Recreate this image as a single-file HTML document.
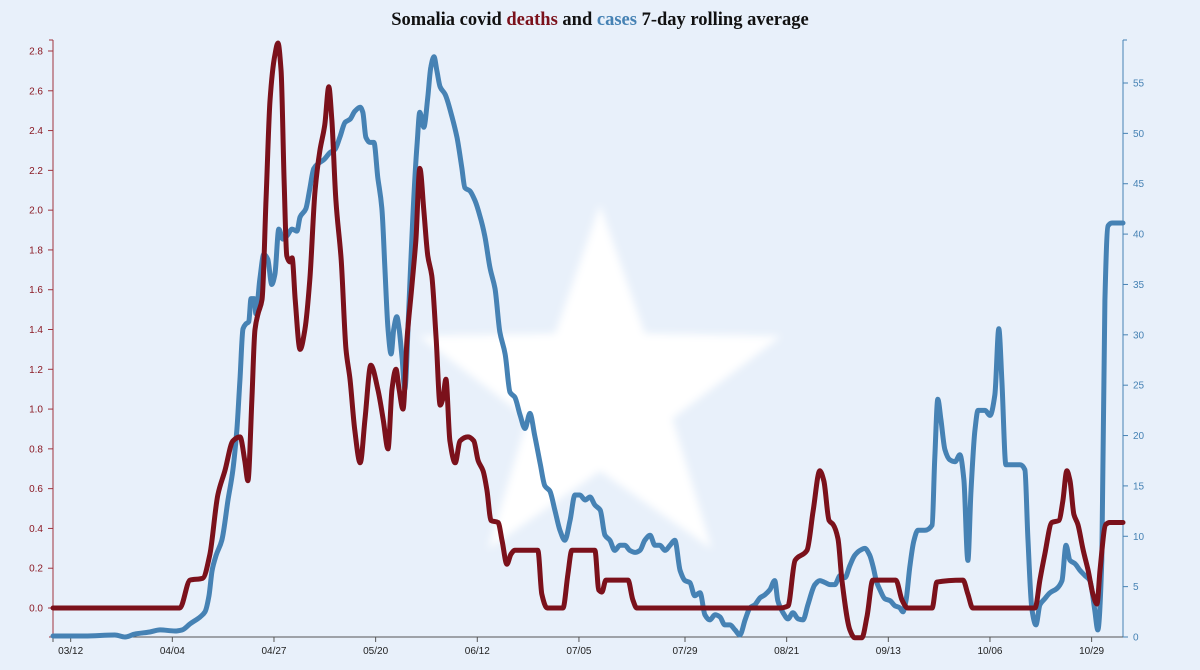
<!DOCTYPE html>
<html><head><meta charset="utf-8">
<style>
html,body{margin:0;padding:0;background:#e8f0fa;}
svg{display:block;font-family:"Liberation Sans",sans-serif;}
</style></head>
<body>
<svg id="chart" width="1200" height="670">
<defs><filter id="blur"><feGaussianBlur stdDeviation="4"/></filter></defs>
<rect width="1200" height="670" fill="#e8f0fa"/>
<polygon id="star" fill="#ffffff" filter="url(#blur)"/>
<text x="600" y="25" text-anchor="middle" font-family="Liberation Serif, serif" font-weight="bold" font-size="18.5" fill="#111">Somalia covid <tspan fill="#7b111b">deaths</tspan> and <tspan fill="#4682b4">cases</tspan> 7-day rolling average</text>
<g id="axes"></g>
<g id="series"></g>
</svg>
<script>
const xTickLabels=["03/12","04/04","04/27","05/20","06/12","07/05","07/29","08/21","09/13","10/06","10/29"];
const xTickDays=[4,27,50,73,96,119,143,166,189,212,235];
const leftTicks=[0,0.2,0.4,0.6,0.8,1.0,1.2,1.4,1.6,1.8,2.0,2.2,2.4,2.6,2.8];
const rightTicks=[0,5,10,15,20,25,30,35,40,45,50,55];
const deathDays=[0,28.7,31,33.9,35.5,37.3,38.9,40.7,42.3,43.4,44.1,45,45.7,46.4,47.3,48.2,49.1,50.2,50.9,51.6,52.3,52.9,53.6,54.1,54.8,55.9,57,58.1,59.3,60.4,61.5,62.4,63.1,64,65.2,66.3,67.2,68.3,69.5,70.6,71.9,73.5,74.7,75.8,76.7,77.6,78.3,79.2,80.1,81.2,82.1,83,83.9,84.8,85.7,86.7,87.6,88.2,88.9,89.8,91,92.1,93.9,95.2,96.2,97.3,98.2,99.1,100.7,101.6,102.7,103.6,104.5,109.7,110.6,111.8,115.4,116.5,117.4,122.6,123.5,124.2,125.1,130.1,131.2,132.1,164.5,166.3,167.9,170.6,172,173.5,174.4,175.6,176.5,177.6,178.5,180.3,181.4,183,184.2,185.5,190.7,192.1,193.4,198.9,200,205.9,207,208.1,222.2,223.3,224.4,226,227.6,228.5,229.4,230.1,231,231.9,233,234.2,235.3,236.2,236.9,238.2,239.1,242.1];
const deathVals=[0,0,0.14,0.15,0.27,0.57,0.69,0.84,0.86,0.74,0.64,1.05,1.40,1.48,1.55,2.05,2.55,2.78,2.84,2.70,2.15,1.77,1.74,1.76,1.55,1.30,1.40,1.65,2.10,2.30,2.43,2.62,2.45,2.05,1.75,1.30,1.15,0.89,0.73,0.95,1.22,1.10,0.95,0.80,1.10,1.20,1.10,1.00,1.35,1.62,1.85,2.21,2.00,1.77,1.67,1.35,1.02,1.05,1.15,0.84,0.73,0.84,0.86,0.84,0.74,0.69,0.59,0.44,0.43,0.34,0.22,0.27,0.29,0.29,0.07,0,0,0.17,0.29,0.29,0.09,0.08,0.14,0.14,0.04,0,0,0.01,0.24,0.29,0.49,0.69,0.64,0.44,0.42,0.35,0.14,-0.11,-0.15,-0.15,-0.04,0.14,0.14,0.04,0,0,0.13,0.14,0.07,0,0,0.14,0.27,0.43,0.44,0.54,0.69,0.64,0.47,0.42,0.30,0.19,0.07,0.02,0.19,0.42,0.43,0.43];
const caseDays=[0,7.2,14,16.3,18.6,21.9,24.2,27.6,29.2,31,33.3,34.4,35.3,36,36.9,38.2,39.6,40.7,41.6,42.3,43,43.7,44.3,44.8,45.5,45.9,46.8,47.7,48.6,49.5,50.2,51.1,52,52.9,54.1,55.2,55.9,57.2,58.1,59,60,61.3,62.7,63.8,64.9,66.1,67.2,68.3,69.5,70.1,70.8,71.7,72.6,73.5,74.4,75.1,75.8,76.5,77.1,77.8,78.3,79,79.6,80.5,81.4,82.4,83,83.9,84.8,85.5,86.2,86.9,87.6,88.7,90.3,91.4,92.5,93.2,94.3,95.5,96.6,97.7,98.9,100,101.1,102.3,103.4,104.5,105.7,106.8,107.9,109,110.2,111.3,112.4,113.6,114.7,115.8,117,118.1,119.2,120.4,121.5,122.6,123.8,124.9,126,127.1,128.3,129.4,130.5,131.7,132.8,133.9,135.1,136.2,137.3,138.5,139.6,140.7,141.9,143,144.1,145.2,146.4,147.5,148.6,149.8,150.9,152,153.2,154.3,155.4,156.6,157.7,158.8,160,161.1,162.2,163.3,164,165.2,166.3,167.4,168.6,169.7,170.8,172.4,173.5,174.7,175.8,176.9,178.1,179.2,180.3,181.4,182.6,183.7,184.8,185.5,186.4,187.1,188.2,189.4,190.5,191.6,192.3,193,193.9,194.8,195.7,197.3,198.9,199.5,200.2,200.9,201.8,202.9,204.1,205.2,206.1,207,207.7,208.6,209.3,210.9,212,213.1,214,214.7,215.6,217,218.8,219.9,220.6,221.5,222.4,223.3,224.4,225.6,227.1,228.3,229.2,230.1,231.2,232.4,233.5,234.6,235.7,236.4,237.3,238,238.7,239.6,242.1];
const caseVals=[0.1,0.1,0.2,0,0.3,0.5,0.7,0.6,0.7,1.3,2.0,2.5,4.1,6.6,8.1,9.6,13.6,16.6,20.6,25.6,30.6,31.1,31.3,33.6,33.6,32.1,35.5,38.0,37.5,35.0,36.0,40.5,39.5,39.8,40.5,40.3,41.7,42.5,44.5,46.5,47.0,47.4,48.1,48.4,49.6,51.1,51.4,52.2,52.6,52.1,49.6,49.1,49.1,45.6,42.6,36.6,30.6,28.1,30.6,31.8,30.6,27.6,24.6,32.6,41.6,49.1,52.1,50.6,53.6,56.6,57.6,56.1,54.6,53.9,51.6,49.6,46.6,44.6,44.3,43.3,41.8,39.8,36.6,34.6,30.3,28.1,24.3,23.8,22.0,20.7,22.2,20.0,17.3,15.0,14.5,12.5,10.6,9.6,11.6,14.1,14.1,13.6,13.9,13.1,12.6,10.1,9.6,8.6,9.1,9.1,8.6,8.4,8.6,9.6,10.1,9.1,9.1,8.6,9.1,9.6,6.6,5.6,5.4,4.1,4.4,2.2,1.7,2.2,2.0,1.2,1.2,0.7,0.2,1.7,2.9,3.2,3.9,4.2,4.7,5.6,3.6,2.4,1.8,2.4,1.8,1.7,3.2,5.2,5.6,5.4,5.2,5.2,6.1,5.9,7.1,8.1,8.6,8.8,8.1,7.1,5.4,4.7,3.8,3.6,3.1,2.9,2.5,3.6,7.1,9.6,10.6,10.6,11.1,17.6,23.6,21.6,18.6,17.6,17.4,18.1,15.6,7.6,14.5,20.5,22.5,22.5,22.0,24.0,30.6,25.4,17.1,17.1,17.1,16.6,9.6,2.7,1.2,3.2,3.8,4.4,4.8,5.6,9.1,7.6,7.3,6.6,6.1,5.6,2.7,0.7,7.6,33.4,40.8,41.1,41.1];

const X0=53,X1=1123,YT=40,YB=637;
const xScale=d=>X0+d*(X1-X0)/242.1;
const yLeft=v=>608-v*(608-51)/2.8;
const yRight=v=>YB-v*(YB-83)/55;
const NS="http://www.w3.org/2000/svg";
function mk(tag,attrs,parent,text){const e=document.createElementNS(NS,tag);for(const k in attrs)e.setAttribute(k,attrs[k]);if(text!==undefined)e.textContent=text;parent.appendChild(e);return e;}

(function(){const cx=600,cy=395,R=190,r=76;let pts=[];for(let i=0;i<10;i++){const a=-Math.PI/2+i*Math.PI/5;const rad=i%2?r:R;pts.push((cx+rad*Math.cos(a)).toFixed(1)+","+(cy+rad*Math.sin(a)).toFixed(1));}document.getElementById('star').setAttribute('points',pts.join(' '));})();

const axes=document.getElementById('axes');
const la=mk('line',{x1:X0,y1:YT,x2:X0,y2:YB,stroke:'#a0343f','stroke-width':1},axes);


mk('line',{x1:X0,y1:YT,x2:X0-4,y2:YT,stroke:'#a0343f'},axes);
mk('line',{x1:X0,y1:YB,x2:X0-4,y2:YB,stroke:'#a0343f'},axes);
leftTicks.forEach(v=>{const y=yLeft(v);mk('line',{x1:X0-5,y1:y,x2:X0,y2:y,stroke:'#a0343f'},axes);
const t=mk('text',{x:X0-10,y:y+3.5,'text-anchor':'end','font-size':10,fill:'#8b1a24'},axes,v.toFixed(1));

});
const ra=mk('line',{x1:X1,y1:YT,x2:X1,y2:YB,stroke:'#4682b4','stroke-width':1},axes);


mk('line',{x1:X1,y1:YT,x2:X1+4,y2:YT,stroke:'#4682b4'},axes);
rightTicks.forEach(v=>{const y=yRight(v);mk('line',{x1:X1,y1:y,x2:X1+5,y2:y,stroke:'#4682b4'},axes);
const t=mk('text',{x:X1+10,y:y+3.5,'font-size':10,fill:'#4682b4'},axes,String(v));

});
const ba=mk('line',{x1:X0,y1:YB,x2:X1,y2:YB,stroke:'#555','stroke-width':1},axes);


mk('line',{x1:X0,y1:YB,x2:X0,y2:YB+5,stroke:'#555'},axes);
xTickDays.forEach((d,i)=>{const x=xScale(d);mk('line',{x1:x,y1:YB,x2:x,y2:YB+5,stroke:'#555'},axes);
const t=mk('text',{x:x,y:YB+17,'text-anchor':'middle','font-size':10,fill:'#222'},axes,xTickLabels[i]);

});

// monotone cubic (Fritsch-Carlson) path
function monoPath(pts){const n=pts.length;const dx=[],m=[],t=new Array(n);
for(let i=0;i<n-1;i++){dx[i]=pts[i+1][0]-pts[i][0];m[i]=(pts[i+1][1]-pts[i][1])/dx[i];}
t[0]=m[0];t[n-1]=m[n-2];
for(let i=1;i<n-1;i++){if(m[i-1]*m[i]<=0)t[i]=0;else{const h0=dx[i-1],h1=dx[i];t[i]=3*(h0+h1)/((2*h1+h0)/m[i-1]+(h1+2*h0)/m[i]);}}
let d="M"+pts[0][0].toFixed(1)+","+pts[0][1].toFixed(1);
for(let i=0;i<n-1;i++){const h=dx[i]/3;const p=pts[i],q=pts[i+1];
d+=" C"+(p[0]+h).toFixed(1)+","+(p[1]+t[i]*h).toFixed(1)+" "+(q[0]-h).toFixed(1)+","+(q[1]-t[i+1]*h).toFixed(1)+" "+q[0].toFixed(1)+","+q[1].toFixed(1);}
return d;}
const ser=document.getElementById('series');
const cp=mk('path',{d:monoPath(caseDays.map((d,i)=>[xScale(d),yRight(caseVals[i])])),fill:'none',stroke:'#4682b4','stroke-width':5,'stroke-linejoin':'round','stroke-linecap':'round'},ser);


const dp=mk('path',{d:monoPath(deathDays.map((d,i)=>[xScale(d),yLeft(deathVals[i])])),fill:'none',stroke:'#7b111b','stroke-width':5,'stroke-linejoin':'round','stroke-linecap':'round'},ser);


</script>
</body></html>
